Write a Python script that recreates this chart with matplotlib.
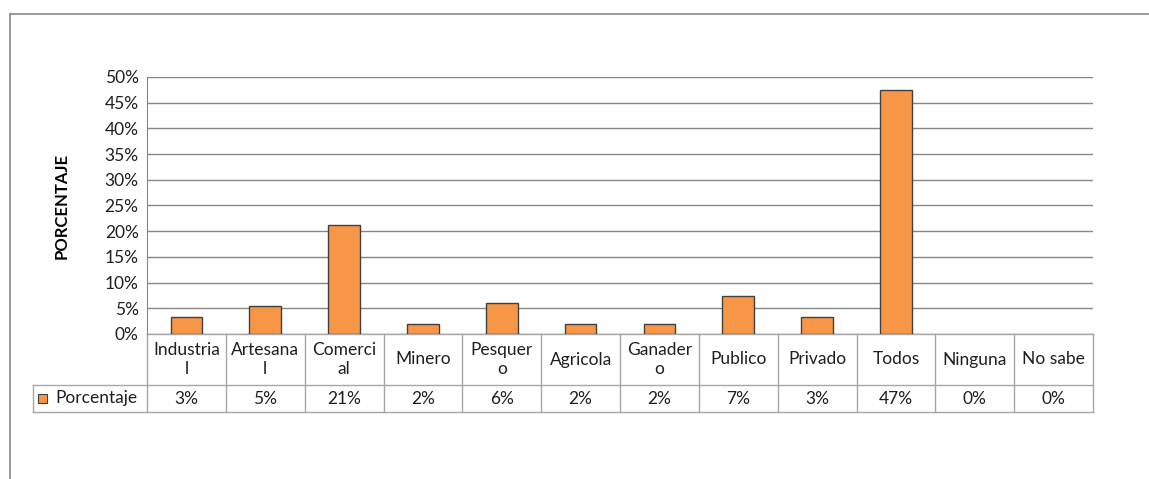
import matplotlib
matplotlib.use("Agg")
import matplotlib.pyplot as plt
from matplotlib.patches import Rectangle
from matplotlib.ticker import MultipleLocator, PercentFormatter

plt.rcParams["font.family"] = ["Lato", "DejaVu Sans"]

categorias = ["Industria\nl", "Artesana\nl", "Comerci\nal", "Minero", "Pesquer\no",
              "Agricola", "Ganader\no", "Publico", "Privado", "Todos", "Ninguna", "No sabe"]
porcentajes = [3.3, 5.4, 21.3, 1.9, 6.0, 1.9, 1.9, 7.4, 3.3, 47.4, 0.0, 0.0]
etiquetas_tabla = ["3%", "5%", "21%", "2%", "6%", "2%", "2%", "7%", "3%", "47%", "0%", "0%"]
serie = "Porcentaje"

COR_BARRA = "#F79646"
COR_GRADE = "#868686"
COR_TABELA = "#A6A6A6"
COR_TEXTO = "#1F1F1F"
TAM = 12.5
W, H = 1149, 479

fig = plt.figure(figsize=(W / 100, H / 100), dpi=100)

# moldura do gráfico (estilo Excel)
fig.add_artist(plt.Line2D([10 / W, 1], [1 - 14 / H, 1 - 14 / H], color="#888888", lw=1.2))
fig.add_artist(plt.Line2D([10 / W, 10 / W], [0, 1 - 14 / H], color="#888888", lw=1.2))

ax = fig.add_axes([147 / W, (H - 334) / H, (1093 - 147) / W, (334 - 77) / H])

n = len(categorias)
idx = [i for i, v in enumerate(porcentajes) if v > 0]
ax.bar(idx, [porcentajes[i] for i in idx], width=0.4, color=COR_BARRA,
       edgecolor="#404040", linewidth=1, zorder=3)

ax.set_xlim(-0.5, n - 0.5)
ax.set_ylim(0, 50)
ax.yaxis.set_major_locator(MultipleLocator(5))
ax.yaxis.set_major_formatter(PercentFormatter(decimals=0))
ax.grid(axis="y", color=COR_GRADE, lw=1, zorder=0)
ax.set_xticks([])
ax.tick_params(axis="y", length=0, pad=6, labelsize=TAM, labelcolor=COR_TEXTO)
for lado in ["top", "right", "bottom"]:
    ax.spines[lado].set_visible(False)
ax.spines["left"].set_color(COR_GRADE)

ax.set_ylabel("PORCENTAJE", fontsize=12, fontweight="bold", color="#000000")
ax.yaxis.set_label_coords(-0.082, 0.5)

# tabela de dados
y_linha1 = -51 / 257
y_linha2 = -78 / 257
x_cab = -114 / 946
trans = ax.get_xaxis_transform()

def linha(xs, ys):
    ax.plot(xs, ys, color=COR_TABELA, lw=1, transform=ax.transAxes, clip_on=False, zorder=2)

for y in [y_linha1, y_linha2]:
    linha([x_cab, 1], [y, y])
linha([0, 1], [0, 0])
linha([x_cab, x_cab], [y_linha1, y_linha2])
for i in range(n + 1):
    linha([i / n, i / n], [0, y_linha2])

for i, (cat, val) in enumerate(zip(categorias, etiquetas_tabla)):
    ax.text(i, y_linha1 / 2, cat, transform=trans, ha="center", va="center",
            fontsize=TAM, color=COR_TEXTO, linespacing=1.3, clip_on=False)
    ax.text(i, (y_linha1 + y_linha2) / 2, val, transform=trans, ha="center", va="center",
            fontsize=TAM, color=COR_TEXTO, clip_on=False)

ax.add_patch(Rectangle((-109 / 946, y_linha1 - 18 / 257), 9 / 946, 9 / 257,
                       transform=ax.transAxes, facecolor=COR_BARRA, edgecolor="#404040",
                       lw=0.8, clip_on=False))
ax.text(-92 / 946, (y_linha1 + y_linha2) / 2, serie, transform=ax.transAxes,
        ha="left", va="center", fontsize=TAM, color=COR_TEXTO, clip_on=False)

fig.savefig("out.png", dpi=100)
